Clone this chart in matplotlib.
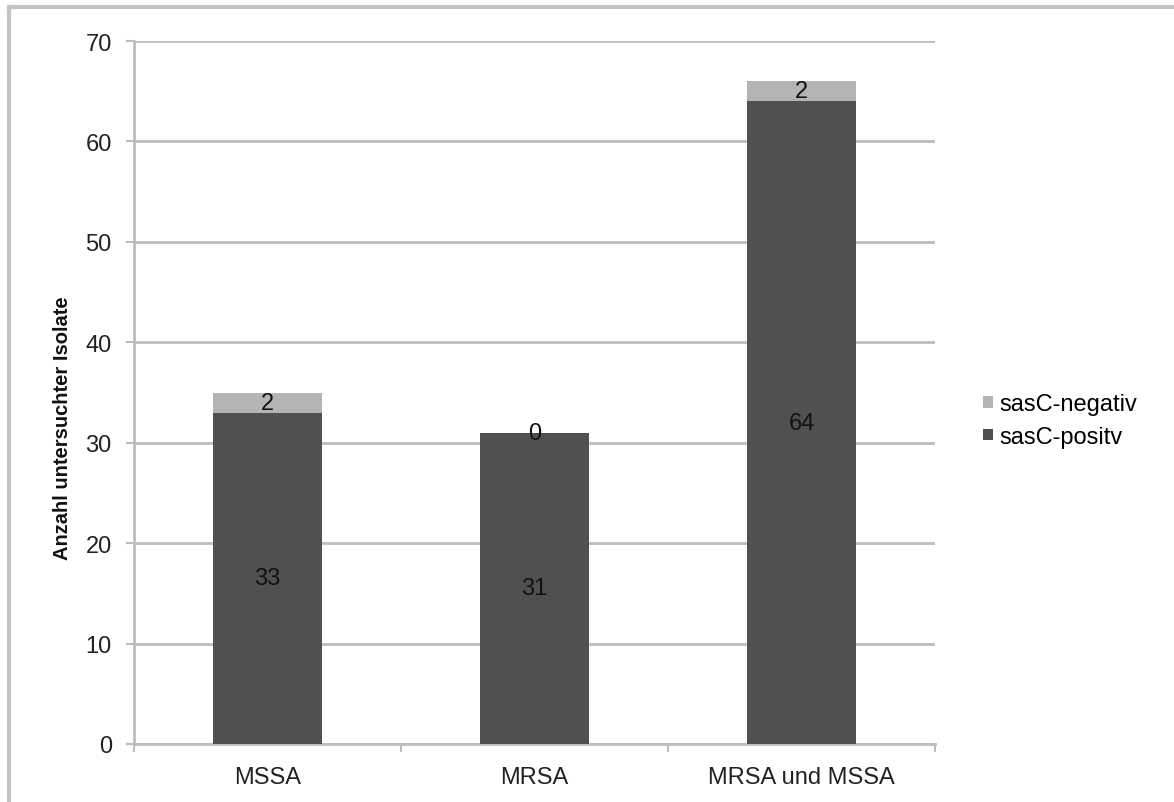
import matplotlib
matplotlib.use('Agg')
import matplotlib.pyplot as plt
import numpy as np
from matplotlib import rcParams
from matplotlib.lines import Line2D

rcParams['font.family'] = 'sans-serif'
rcParams['font.sans-serif'] = ['Liberation Sans', 'DejaVu Sans']
rcParams['font.size'] = 17

categories = ['MSSA', 'MRSA', 'MRSA und MSSA']
positiv = [33, 31, 64]
negativ = [2, 0, 2]

dark = '#505050'
light = '#b4b4b4'
grid = '#bdbdbd'

fig = plt.figure(figsize=(11.74, 8.03), dpi=100)
ax = fig.add_axes([134/1174, 1 - 745/803, (935 - 134)/1174, (745 - 42)/803])

x = np.arange(len(categories))
width = 0.41
b1 = ax.bar(x, positiv, width, color=dark, label='sasC-positv', zorder=3)
b2 = ax.bar(x, negativ, width, bottom=positiv, color=light, label='sasC-negativ', zorder=3)

# value labels centred in each segment
for i in range(len(categories)):
    ax.text(x[i], positiv[i] / 2, str(positiv[i]), ha='center', va='center',
            fontsize=17, color='#111111', zorder=4)
    ax.text(x[i], positiv[i] + negativ[i] / 2, str(negativ[i]), ha='center', va='center',
            fontsize=17, color='#111111', zorder=4)

ax.set_xlim(-0.5, len(categories) - 0.5)
ax.set_ylim(0, 70)
ax.set_yticks(np.arange(0, 71, 10))
ax.yaxis.grid(True, color=grid, linewidth=2, zorder=0)
ax.set_xticks(x)
ax.set_xticklabels(categories, fontsize=17, color='#222222')
ax.set_xticks(np.arange(-0.5, len(categories)), minor=True)
ax.tick_params(axis='x', which='major', length=0, pad=16)
ax.tick_params(axis='x', which='minor', length=6, width=1.5, color=grid)
ax.tick_params(axis='y', length=6, width=1.5, color=grid, labelsize=17,
               labelcolor='#222222', pad=10)

for side in ['top', 'right']:
    ax.spines[side].set_visible(False)
for side in ['left', 'bottom']:
    ax.spines[side].set_color(grid)
    ax.spines[side].set_linewidth(2)

ax.set_ylabel('Anzahl untersuchter Isolate', fontsize=14.5, fontweight='bold',
              color='#111111')
ax.yaxis.set_label_coords(-0.077, 0.45)

handles = [b2, b1]
ax.legend(handles, [h.get_label() for h in handles], loc='center left',
          bbox_to_anchor=((962 - 134)/801, 0.46), frameon=False,
          fontsize=17, handlelength=0.4, handleheight=0.4,
          handletextpad=0.3, labelspacing=0.45)

# frame lines along the top and left edge of the figure
fig.lines.append(Line2D([9/1174, 1], [1 - 8/803, 1 - 8/803], transform=fig.transFigure,
                        color='#c4c4c4', linewidth=3))
fig.lines.append(Line2D([9/1174, 9/1174], [0, 1 - 8/803], transform=fig.transFigure,
                        color='#c4c4c4', linewidth=3))

fig.savefig('out.png', dpi=100)
